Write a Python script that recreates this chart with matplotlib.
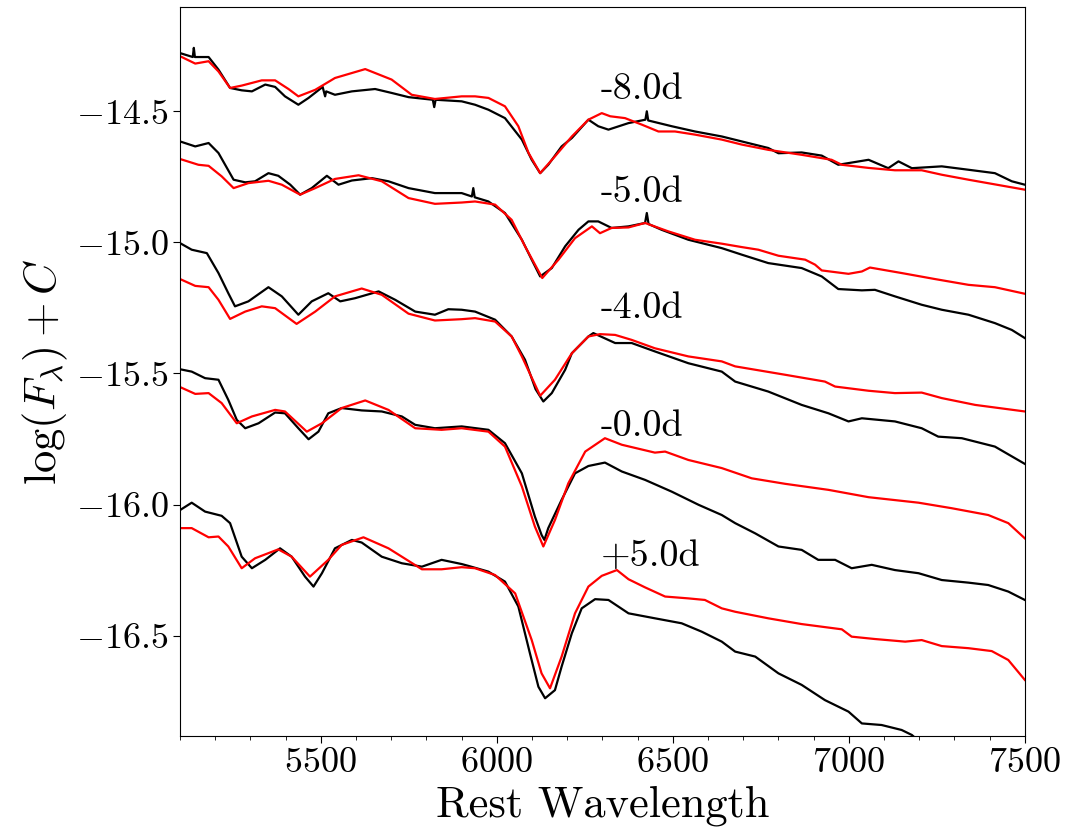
import numpy as np
import matplotlib
matplotlib.use("Agg")
import matplotlib.pyplot as plt
from matplotlib.ticker import MultipleLocator

plt.rcParams['font.family'] = 'serif'
plt.rcParams['font.serif'] = ['cmr10', 'DejaVu Serif']
plt.rcParams['mathtext.fontset'] = 'cm'
plt.rcParams['axes.formatter.use_mathtext'] = True

obs_wl_m8 = [5100, 5136, 5139, 5142, 5181, 5209, 5242, 5275, 5304, 5342, 5370, 5398, 5436, 5465,
             5505, 5512, 5515, 5540, 5588, 5654, 5701, 5749, 5818, 5822, 5826, 5900, 5938, 5976,
             6023, 6071, 6099, 6123, 6146, 6184, 6213, 6260, 6288, 6317, 6374, 6422, 6426, 6430,
             6497, 6563, 6639, 6696, 6771, 6800, 6866, 6923, 6970, 7056, 7112, 7141, 7179, 7264,
             7340, 7415, 7463, 7500]
obs_fx_m8 = [-14.278, -14.293, -14.258, -14.293, -14.293, -14.341, -14.411, -14.420, -14.424, -14.398,
             -14.407, -14.443, -14.475, -14.449, -14.407, -14.443, -14.424, -14.437, -14.424, -14.415,
             -14.430, -14.446, -14.456, -14.484, -14.456, -14.462, -14.475, -14.494, -14.526, -14.608,
             -14.685, -14.736, -14.704, -14.634, -14.602, -14.532, -14.557, -14.570, -14.545, -14.532,
             -14.500, -14.535, -14.557, -14.577, -14.596, -14.615, -14.640, -14.660, -14.657, -14.669,
             -14.704, -14.685, -14.717, -14.691, -14.717, -14.710, -14.723, -14.736, -14.767, -14.780]

obs_wl_m5 = [5100, 5143, 5181, 5209, 5252, 5285, 5313, 5351, 5379, 5413, 5441, 5474, 5517, 5550,
             5588, 5645, 5692, 5749, 5824, 5900, 5929, 5933, 5937, 5976, 6023, 6071, 6099, 6123,
             6156, 6194, 6232, 6260, 6288, 6326, 6374, 6421, 6426, 6431, 6468, 6544, 6639, 6696,
             6771, 6866, 6923, 6970, 7037, 7074, 7131, 7207, 7264, 7340, 7415, 7463, 7500]
obs_fx_m5 = [-14.615, -14.634, -14.621, -14.659, -14.761, -14.771, -14.767, -14.736, -14.746, -14.780,
             -14.818, -14.793, -14.746, -14.780, -14.764, -14.755, -14.767, -14.793, -14.812, -14.812,
             -14.825, -14.793, -14.828, -14.844, -14.888, -14.990, -15.066, -15.130, -15.098, -15.015,
             -14.952, -14.920, -14.920, -14.945, -14.939, -14.926, -14.888, -14.930, -14.952, -14.990,
             -15.022, -15.047, -15.079, -15.098, -15.130, -15.178, -15.183, -15.181, -15.206, -15.238,
             -15.257, -15.276, -15.308, -15.334, -15.365]

obs_wl_m4 = [5100, 5133, 5176, 5209, 5237, 5256, 5294, 5351, 5389, 5436, 5474, 5521, 5555, 5597,
             5664, 5711, 5768, 5824, 5862, 5900, 5938, 5995, 6042, 6080, 6110, 6132, 6156, 6194,
             6213, 6260, 6274, 6336, 6383, 6449, 6544, 6639, 6677, 6771, 6866, 6942, 6999, 7037,
             7131, 7207, 7254, 7321, 7415, 7500]
obs_fx_m4 = [-15.003, -15.028, -15.041, -15.117, -15.194, -15.244, -15.225, -15.171, -15.206, -15.276,
             -15.225, -15.194, -15.225, -15.213, -15.187, -15.219, -15.264, -15.276, -15.255, -15.257,
             -15.264, -15.295, -15.359, -15.448, -15.560, -15.607, -15.575, -15.486, -15.423, -15.359,
             -15.346, -15.384, -15.384, -15.416, -15.461, -15.493, -15.531, -15.569, -15.620, -15.652,
             -15.683, -15.671, -15.683, -15.709, -15.741, -15.747, -15.779, -15.845]

obs_wl_0 = [5100, 5133, 5171, 5209, 5237, 5261, 5285, 5323, 5370, 5398, 5436, 5465, 5493, 5521,
            5559, 5616, 5673, 5730, 5768, 5824, 5900, 5976, 6023, 6071, 6108, 6127, 6135, 6146,
            6184, 6222, 6260, 6307, 6355, 6421, 6497, 6573, 6639, 6677, 6734, 6800, 6866, 6913,
            6961, 7008, 7065, 7131, 7198, 7264, 7340, 7396, 7453, 7500]
obs_fx_0 = [-15.484, -15.493, -15.518, -15.524, -15.601, -15.677, -15.709, -15.690, -15.649, -15.652,
            -15.709, -15.751, -15.722, -15.652, -15.632, -15.641, -15.645, -15.664, -15.696, -15.709,
            -15.702, -15.715, -15.766, -15.881, -16.046, -16.116, -16.135, -16.090, -15.982, -15.881,
            -15.853, -15.840, -15.874, -15.906, -15.951, -16.001, -16.040, -16.071, -16.110, -16.160,
            -16.173, -16.211, -16.211, -16.243, -16.230, -16.250, -16.262, -16.288, -16.298, -16.307,
            -16.332, -16.364]

obs_wl_p5 = [5100, 5133, 5171, 5218, 5242, 5275, 5304, 5342, 5384, 5417, 5455, 5479, 5503, 5540,
             5588, 5616, 5673, 5730, 5787, 5843, 5900, 5919, 5976, 6023, 6061, 6094, 6118, 6137,
             6165, 6184, 6213, 6241, 6279, 6317, 6374, 6449, 6525, 6582, 6639, 6677, 6734, 6800,
             6866, 6932, 6999, 7037, 7093, 7150, 7179, 7240]
obs_fx_p5 = [-16.021, -15.993, -16.027, -16.043, -16.071, -16.199, -16.243, -16.211, -16.167, -16.199,
             -16.275, -16.313, -16.262, -16.167, -16.135, -16.145, -16.199, -16.224, -16.237, -16.211,
             -16.227, -16.234, -16.256, -16.294, -16.389, -16.568, -16.695, -16.739, -16.708, -16.618,
             -16.491, -16.396, -16.361, -16.364, -16.415, -16.434, -16.453, -16.485, -16.523, -16.561,
             -16.580, -16.644, -16.688, -16.746, -16.790, -16.835, -16.841, -16.860, -16.879, -16.950]

# model spectra (red)
mod_wl_m8 = [5100, 5143, 5181, 5209, 5242, 5275, 5332, 5370, 5408, 5436, 5484, 5540, 5626, 5701,
             5758, 5824, 5900, 5938, 5976, 6023, 6061, 6090, 6123, 6165, 6213, 6260, 6298, 6322,
             6364, 6412, 6459, 6506, 6563, 6639, 6696, 6771, 6866, 6951, 6980, 7056, 7131, 7207,
             7264, 7340, 7500]
mod_fx_m8 = [-14.290, -14.318, -14.309, -14.348, -14.411, -14.402, -14.382, -14.382, -14.415, -14.443,
             -14.418, -14.373, -14.339, -14.379, -14.437, -14.453, -14.443, -14.443, -14.449, -14.481,
             -14.557, -14.659, -14.736, -14.672, -14.596, -14.532, -14.507, -14.519, -14.526, -14.551,
             -14.577, -14.577, -14.589, -14.608, -14.627, -14.647, -14.666, -14.685, -14.704, -14.716,
             -14.725, -14.725, -14.742, -14.761, -14.799]

mod_wl_m5 = [5100, 5152, 5181, 5218, 5252, 5294, 5351, 5389, 5441, 5484, 5540, 5607, 5673, 5749,
             5824, 5900, 5938, 5995, 6042, 6080, 6129, 6175, 6222, 6270, 6293, 6326, 6374, 6421,
             6487, 6563, 6639, 6696, 6743, 6800, 6876, 6904, 6923, 6999, 7037, 7060, 7150, 7245,
             7340, 7415, 7500]
mod_fx_m5 = [-14.682, -14.704, -14.708, -14.748, -14.793, -14.774, -14.765, -14.780, -14.818, -14.793,
             -14.758, -14.744, -14.767, -14.831, -14.853, -14.848, -14.844, -14.856, -14.914, -15.015,
             -15.136, -15.066, -14.984, -14.939, -14.965, -14.945, -14.943, -14.926, -14.958, -14.990,
             -15.005, -15.018, -15.028, -15.051, -15.066, -15.085, -15.107, -15.120, -15.111, -15.096,
             -15.117, -15.140, -15.162, -15.171, -15.196]

mod_wl_m4 = [5100, 5143, 5181, 5209, 5242, 5285, 5332, 5370, 5431, 5484, 5540, 5616, 5673, 5749,
             5824, 5900, 5938, 5995, 6042, 6071, 6123, 6165, 6213, 6260, 6293, 6336, 6383, 6449,
             6544, 6639, 6677, 6819, 6932, 6961, 7056, 7131, 7207, 7264, 7359, 7500]
mod_fx_m4 = [-15.140, -15.166, -15.171, -15.219, -15.292, -15.264, -15.244, -15.251, -15.311, -15.264,
             -15.206, -15.176, -15.200, -15.272, -15.298, -15.293, -15.289, -15.302, -15.359, -15.435,
             -15.585, -15.524, -15.423, -15.359, -15.350, -15.353, -15.372, -15.404, -15.435, -15.454,
             -15.473, -15.505, -15.531, -15.550, -15.566, -15.575, -15.573, -15.594, -15.620, -15.645]

mod_wl_0 = [5100, 5143, 5181, 5218, 5261, 5304, 5370, 5398, 5460, 5503, 5559, 5626, 5692, 5768,
            5843, 5900, 5976, 6023, 6071, 6108, 6132, 6165, 6203, 6251, 6307, 6355, 6449, 6478,
            6544, 6639, 6724, 6819, 6942, 7056, 7198, 7292, 7396, 7453, 7500]
mod_fx_0 = [-15.552, -15.578, -15.575, -15.613, -15.690, -15.664, -15.639, -15.645, -15.722, -15.690,
            -15.632, -15.603, -15.639, -15.709, -15.715, -15.709, -15.722, -15.779, -15.931, -16.084,
            -16.160, -16.059, -15.919, -15.798, -15.747, -15.772, -15.802, -15.798, -15.830, -15.861,
            -15.900, -15.921, -15.944, -15.972, -15.993, -16.014, -16.040, -16.071, -16.129]

mod_wl_p5 = [5100, 5133, 5181, 5209, 5237, 5275, 5313, 5379, 5417, 5469, 5521, 5559, 5621, 5692,
             5787, 5843, 5900, 5938, 5995, 6052, 6099, 6127, 6151, 6184, 6222, 6260, 6298, 6341,
             6374, 6421, 6478, 6544, 6591, 6639, 6677, 6771, 6866, 6980, 7008, 7074, 7160, 7207,
             7264, 7340, 7406, 7453, 7500]
mod_fx_p5 = [-16.090, -16.090, -16.125, -16.122, -16.160, -16.243, -16.205, -16.171, -16.199, -16.275,
             -16.211, -16.154, -16.125, -16.167, -16.247, -16.247, -16.239, -16.243, -16.269, -16.339,
             -16.517, -16.644, -16.701, -16.580, -16.415, -16.313, -16.272, -16.250, -16.285, -16.316,
             -16.351, -16.358, -16.364, -16.396, -16.409, -16.434, -16.456, -16.476, -16.504, -16.513,
             -16.523, -16.517, -16.540, -16.548, -16.559, -16.593, -16.669]

epochs = ['-8.0d', '-5.0d', '-4.0d', '-0.0d', '+5.0d']
label_wl = 6295
label_fx = [-14.452, -14.845, -15.288, -15.738, -16.234]

obs = [(obs_wl_m8, obs_fx_m8), (obs_wl_m5, obs_fx_m5), (obs_wl_m4, obs_fx_m4),
       (obs_wl_0, obs_fx_0), (obs_wl_p5, obs_fx_p5)]
mods = [(mod_wl_m8, mod_fx_m8), (mod_wl_m5, mod_fx_m5), (mod_wl_m4, mod_fx_m4),
        (mod_wl_0, mod_fx_0), (mod_wl_p5, mod_fx_p5)]

fig = plt.figure(figsize=(10.72, 8.38), dpi=100)
ax = fig.add_axes([0.168, 0.1217, 0.788, 0.870])

for (wl, fx), (mwl, mfx), ep, ly in zip(obs, mods, epochs, label_fx):
    ax.plot(wl, fx, color='black', lw=1.6)
    ax.plot(mwl, mfx, color='red', lw=1.6)
    ax.text(label_wl, ly, ep, fontsize=27.5, ha='left', va='baseline')

ax.set_xlim(5100, 7500)
ax.set_ylim(-16.883, -14.102)
ax.xaxis.set_major_locator(MultipleLocator(500))
ax.xaxis.set_minor_locator(MultipleLocator(100))
ax.yaxis.set_major_locator(MultipleLocator(0.5))
ax.tick_params(axis='both', which='major', labelsize=26, length=5)
ax.tick_params(axis='x', which='minor', length=3)

ax.set_xlabel('Rest Wavelength', fontsize=32)
ax.set_ylabel(r'$\log(F_\lambda) + C$', fontsize=32)

fig.savefig('out.png', dpi=100)
